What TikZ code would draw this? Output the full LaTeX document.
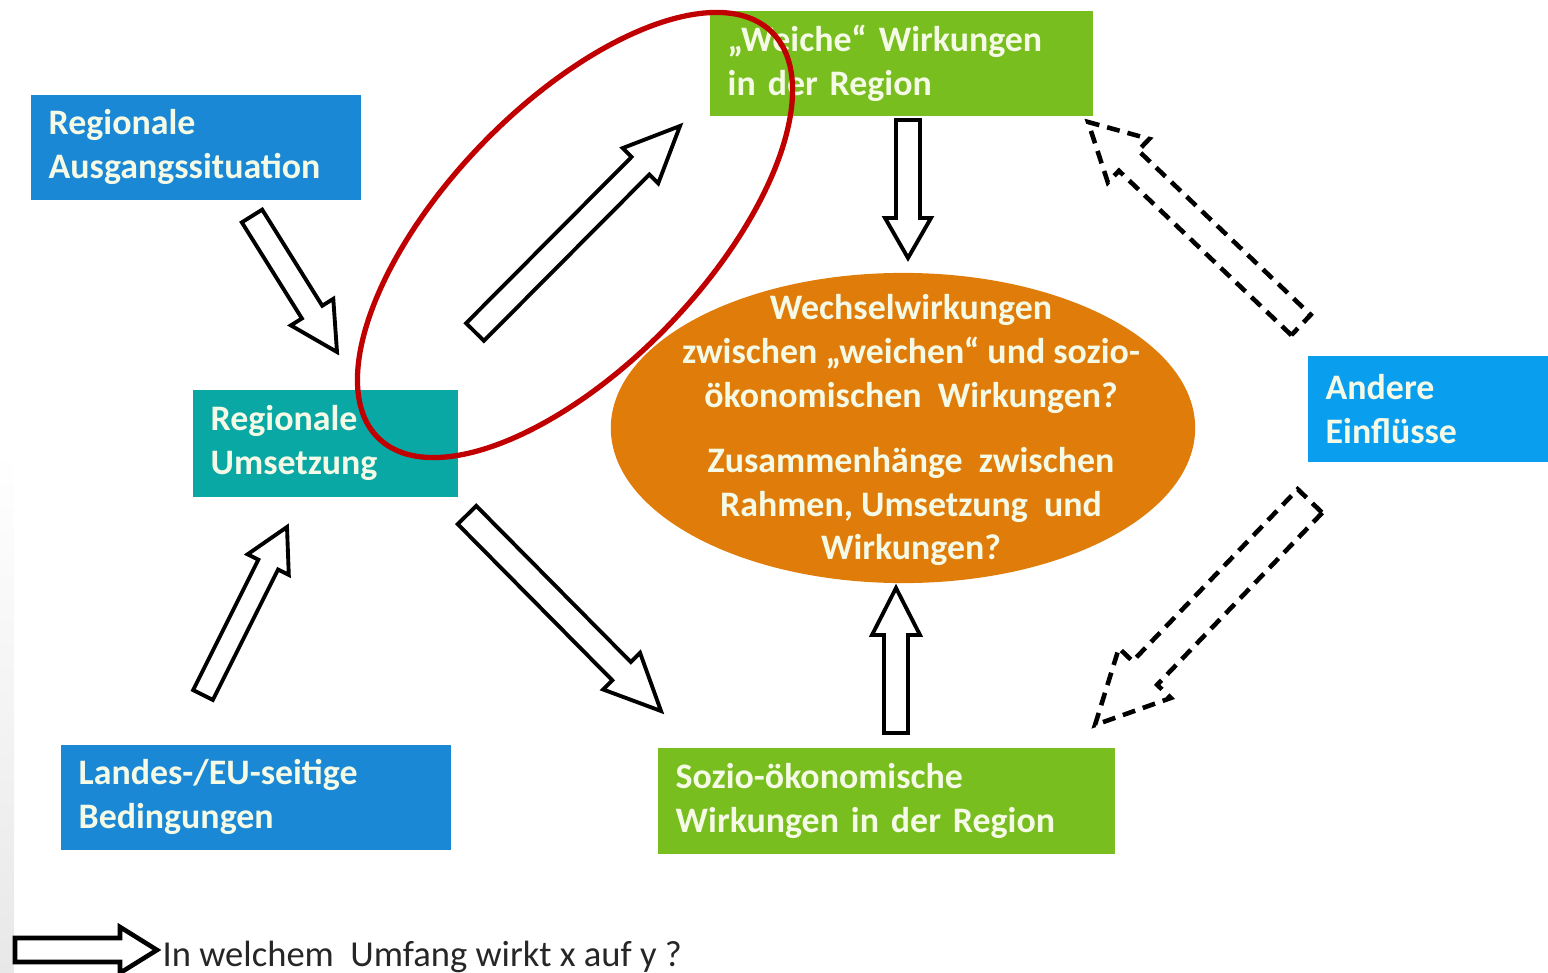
\documentclass[tikz,border=0pt]{standalone}
\usepackage{fontspec}
\setmainfont{Carlito}
\usetikzlibrary{calc,shapes.geometric}

\definecolor{cBlue}{HTML}{1A88D4}
\definecolor{cSky}{HTML}{0A9EEF}
\definecolor{cTeal}{HTML}{0AA8A5}
\definecolor{cGreen}{HTML}{78BE1E}
\definecolor{cOrange}{HTML}{E07D0A}
\definecolor{cRed}{HTML}{C00000}
\definecolor{cPale}{HTML}{F4FAE6}

% hollow block arrow: [style]{tail}{tip}{shaft half width}{head half width}{head length}
\newcommand{\blockarrow}[6][]{%
  \path ($(#3)!#6!(#2)$) coordinate (hb);
  \draw[#1] ($(#2)!#4!90:(#3)$) -- ($(hb)!#4!90:(#3)$) -- ($(hb)!#5!90:(#3)$)
    -- (#3) -- ($(hb)!#5!-90:(#3)$) -- ($(hb)!#4!-90:(#3)$) -- ($(#2)!#4!-90:(#3)$) -- cycle;}

\begin{document}
\begin{tikzpicture}[
            x=0.01cm, y=-0.01cm,
            font=\fontsize{10.2}{12.5}\selectfont\bfseries,
        % Rectangular boxes: text left aligned, anchored at their top left corner.
            box/.style={rectangle, anchor=north west, inner xsep=0.18cm, inner ysep=0pt,
            minimum height=1.05cm, align=left, text=cPale},
            bluebox/.style={box, fill=cBlue},
            skybox/.style={box, fill=cSky},
            tealbox/.style={box, fill=cTeal},
            greenbox/.style={box, fill=cGreen},
            coreell/.style={ellipse, fill=cOrange, inner sep=0pt,
            minimum width=5.84cm, minimum height=3.10cm},
            focusring/.style={ellipse, draw=cRed, line width=1.5pt, inner sep=0pt,
            minimum width=5.65cm, minimum height=2.6cm, rotate=46},
            hollowarr/.style={draw=black, fill=white, line width=1.1pt, line join=miter},
            dasharr/.style={hollowarr, line width=1.3pt, dash pattern=on 3.7pt off 2.3pt}
        ]
            \useasboundingbox (0,0) rectangle (1548,973);
            \shade[top color=white, bottom color=black!9] (0,450) rectangle (14,973);

% --- boxes ---
            \node[bluebox, text width=2.94cm] (ausg) at (30,94) {Regionale\\Ausgangssituation};
            \node[tealbox, text width=2.29cm, minimum height=1.07cm] (umsetz) at (192,389) {Regionale\\Umsetzung};
            \node[bluebox, text width=3.54cm] (landes) at (60,744) {Landes-/EU-seitige\\Bedingungen};
            \node[greenbox, text width=3.47cm] (weiche) at (709,10) {„Weiche“ Wirkungen\\in der Region};
            \node[greenbox, text width=4.21cm, minimum height=1.06cm] (sozio) at (657,747) {Sozio-ökonomische\\Wirkungen in der Region};
            \node[skybox, text width=2.05cm, minimum height=1.06cm] (andere) at (1307,355) {Andere\\Einflüsse};

% --- central question ---
            \node[coreell] (core) at (903,428) {};
            \node[align=center, text=cPale] (coretxt) at (911,430)
            {Wechselwirkungen\\zwischen „weichen“ und sozio-\\ökonomischen\ \ Wirkungen?\\[6pt]Zusammenhänge\ \ zwischen\\Rahmen, Umsetzung\ \ und\\Wirkungen?};

% --- arrow ends ---
            \coordinate (a1) at (252,216);  \coordinate (b1) at (337,352);
            \coordinate (a2) at (475,332);  \coordinate (b2) at (680,126);
            \coordinate (a3) at (467,515);  \coordinate (b3) at (661,711);
            \coordinate (a4) at (203,695);  \coordinate (b4) at (287,527);
            \coordinate (a5) at (908,120);  \coordinate (b5) at (908,258);
            \coordinate (a6) at (896,733);  \coordinate (b6) at (896,588);
            \coordinate (a7) at (1301,325); \coordinate (b7) at (1088,122);
            \coordinate (a8) at (1310,501); \coordinate (b8) at (1095,725);

% --- influence arrows ---
            \blockarrow[hollowarr]{a1}{b1}{0.12cm}{0.25cm}{0.47cm}
            \blockarrow[hollowarr]{a2}{b2}{0.125cm}{0.25cm}{0.56cm}
            \blockarrow[hollowarr]{a3}{b3}{0.13cm}{0.26cm}{0.56cm}
            \blockarrow[hollowarr]{a4}{b4}{0.11cm}{0.23cm}{0.42cm}
            \blockarrow[hollowarr]{a5}{b5}{0.12cm}{0.23cm}{0.40cm}
            \blockarrow[hollowarr]{a6}{b6}{0.12cm}{0.24cm}{0.47cm}
            \blockarrow[dasharr]{a7}{b7}{0.14cm}{0.30cm}{0.56cm}
            \blockarrow[dasharr]{a8}{b8}{0.17cm}{0.36cm}{0.72cm}

% --- highlight ---
            \node[focusring] (focus) at (575,235) {};

% --- legend ---
            \coordinate (a9) at (15,950); \coordinate (b9) at (157,950);
            \blockarrow[hollowarr, line width=1.3pt]{a9}{b9}{0.12cm}{0.23cm}{0.37cm}
            \node[anchor=base west, inner sep=0pt, text=black!85,
            font=\fontsize{10.4}{13}\selectfont\mdseries] (legtxt) at (162,966)
            {In welchem\ \ Umfang wirkt x auf y ?};
        \end{tikzpicture}
\end{document}
